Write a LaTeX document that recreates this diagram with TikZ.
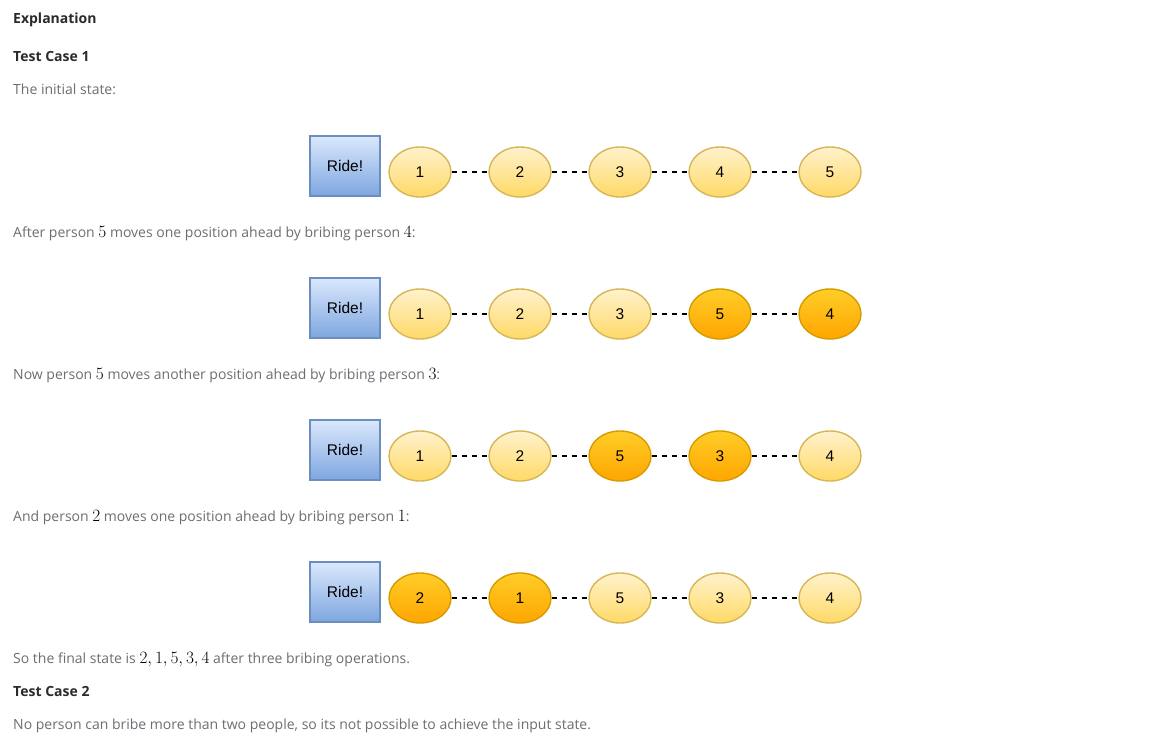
\documentclass[tikz,border=0pt]{standalone}
\usepackage[no-math]{fontspec}
\setmainfont{Open Sans}
\newfontfamily\drawfont{Liberation Sans}
\usetikzlibrary{shapes.geometric}

\definecolor{bodygray}{HTML}{6B6E73}
\definecolor{headgray}{HTML}{2B2B2B}
\definecolor{pale1}{HTML}{FFF2CC}
\definecolor{pale2}{HTML}{FFD966}
\definecolor{paleline}{HTML}{D6B656}
\definecolor{gold1}{HTML}{FFCD28}
\definecolor{gold2}{HTML}{FFA500}
\definecolor{goldline}{HTML}{D79B00}
\definecolor{ride1}{HTML}{DAE8FC}
\definecolor{ride2}{HTML}{7EA6E0}
\definecolor{rideline}{HTML}{6C8EBF}

% digits set in math, as the page prints them
\newcommand{\pnum}[1]{{\color{black}\fontsize{17.28}{17}\selectfont$#1$}}

\begin{document}
\begin{tikzpicture}[x=1pt, y=-1pt,
	txt/.style={anchor=base west, inner sep=0pt, text=bodygray, font=\fontsize{14}{16}\selectfont},
	head/.style={anchor=base west, inner sep=0pt, text=headgray, font=\fontsize{14}{16}\selectfont\bfseries},
	ridebox/.style={draw=rideline, line width=1.4pt, top color=ride1, bottom color=ride2,
		minimum width=70pt, minimum height=60pt, inner sep=0pt, font=\drawfont\fontsize{15.5}{17}\selectfont},
	pale/.style={ellipse, draw=paleline, line width=1.4pt, top color=pale1, bottom color=pale2,
		minimum width=62pt, minimum height=50pt, inner sep=0pt, font=\drawfont\fontsize{15.5}{17}\selectfont},
	gold/.style={pale, draw=goldline, top color=gold1, bottom color=gold2},
	link/.style={draw=black, line width=2pt, dash pattern=on 5.5pt off 4.5pt}
	]

	\useasboundingbox[fill=white] (0,0) rectangle (1163,749);

	% heading and first text
	\node[head] (expl) at (13,24) {Explanation};
	\node[head] (tc1) at (13,62) {Test Case 1};
	\node[txt] (t1) at (13,95) {The initial state:};

	% row 1
	\node[ridebox] (ride1) at (345,166) {Ride!};
	\node[pale] (a1) at (420,172) {1};
	\node[pale] (a2) at (520,172) {2};
	\node[pale] (a3) at (620,172) {3};
	\node[pale] (a4) at (720,172) {4};
	\node[pale] (a5) at (830,172) {5};
	\draw[link] (a1) -- (a2);
	\draw[link] (a2) -- (a3);
	\draw[link] (a3) -- (a4);
	\draw[link] (a4) -- (a5);

	\node[txt] (t2) at (13,237) {After person \pnum{5} moves one position ahead by bribing person \pnum{4}:};

	% row 2
	\node[ridebox] (ride2) at (345,308) {Ride!};
	\node[pale] (b1) at (420,314) {1};
	\node[pale] (b2) at (520,314) {2};
	\node[pale] (b3) at (620,314) {3};
	\node[gold] (b4) at (720,314) {5};
	\node[gold] (b5) at (830,314) {4};
	\draw[link] (b1) -- (b2);
	\draw[link] (b2) -- (b3);
	\draw[link] (b3) -- (b4);
	\draw[link] (b4) -- (b5);

	\node[txt] (t3) at (13,379) {Now person \pnum{5} moves another position ahead by bribing person \pnum{3}:};

	% row 3
	\node[ridebox] (ride3) at (345,450) {Ride!};
	\node[pale] (c1) at (420,456) {1};
	\node[pale] (c2) at (520,456) {2};
	\node[gold] (c3) at (620,456) {5};
	\node[gold] (c4) at (720,456) {3};
	\node[pale] (c5) at (830,456) {4};
	\draw[link] (c1) -- (c2);
	\draw[link] (c2) -- (c3);
	\draw[link] (c3) -- (c4);
	\draw[link] (c4) -- (c5);

	\node[txt] (t4) at (13,521) {And person \pnum{2} moves one position ahead by bribing person \pnum{1}:};

	% row 4
	\node[ridebox] (ride4) at (345,592) {Ride!};
	\node[gold] (d1) at (420,598) {2};
	\node[gold] (d2) at (520,598) {1};
	\node[pale] (d3) at (620,598) {5};
	\node[pale] (d4) at (720,598) {3};
	\node[pale] (d5) at (830,598) {4};
	\draw[link] (d1) -- (d2);
	\draw[link] (d2) -- (d3);
	\draw[link] (d3) -- (d4);
	\draw[link] (d4) -- (d5);

	% closing text
	\node[txt] (t5) at (13,663) {So the final state is \pnum{2, 1, 5, 3, 4} after three bribing operations.};
	\node[head] (tc2) at (13,696) {Test Case 2};
	\node[txt] (t6) at (13,729) {No person can bribe more than two people, so its not possible to achieve the input state.};

\end{tikzpicture}
\end{document}
